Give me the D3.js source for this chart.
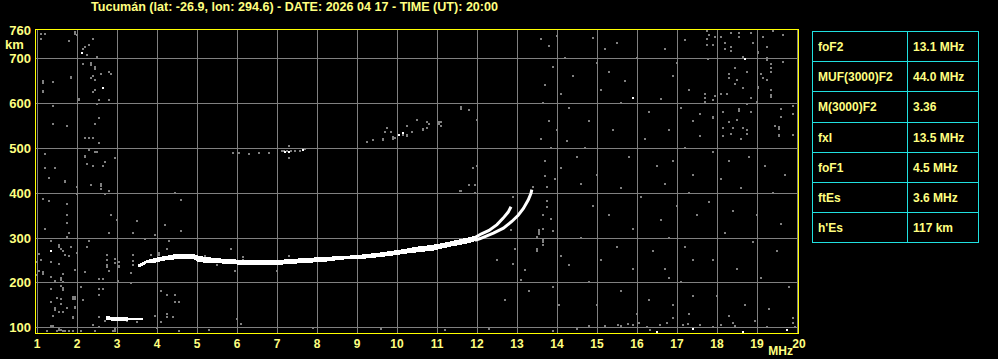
<!DOCTYPE html>
<html>
<head>
<meta charset="utf-8">
<script src="https://cdn.jsdelivr.net/npm/d3@7"></script>
<style>
  body { margin: 0; background: #000; }
  svg { display: block; }
</style>
</head>
<body>
<div id="chart"></div>
<script>
// ionogram - Tucumán
const title = "Tucumán (lat: -26.9, lon: 294.6) - DATE: 2026 04 17 - TIME (UT): 20:00";
const freqTicks = d3.range(1, 21);
const heightTicks = [100, 200, 300, 400, 500, 600, 700, 760];

const paramNames = ["foF2", "MUF(3000)F2", "M(3000)F2", "fxI", "foF1", "ftEs", "h'Es"];
const paramValues = ["13.1 MHz", "44.0 MHz", "3.36", "13.5 MHz", "4.5 MHz", "3.6 MHz", "117 km"];

// F trace (ordinary, below the split): frequency, lower and upper virtual height
const traceFreq = [3.53, 3.62, 3.75, 3.95, 4.2, 4.5, 4.9, 5.05, 5.5, 6.0, 6.6, 7.15, 7.6, 8.2, 8.6, 9.0, 9.3, 9.6, 9.9, 10.2, 10.5, 10.9, 11.35, 11.75, 12.0];
const traceLow  = [234, 236, 243, 244, 249, 252, 252, 245, 243, 240, 239, 240, 243, 246, 251, 252, 254, 257, 260, 264, 267, 271, 280, 287, 293];
const traceHigh = [240, 244, 250, 255, 259, 264, 264, 259, 254, 251, 250, 251, 254, 257, 259, 261, 264, 267, 271, 275, 280, 284, 292, 300, 305];

// the two branches near the critical frequency
const oFreq   = [11.95, 12.1, 12.3, 12.5, 12.65, 12.78, 12.85];
const oHeight = [300, 308, 316, 329, 343, 357, 369];
const xFreq   = [11.95, 12.08, 12.41, 12.66, 12.87, 13.03, 13.16, 13.28, 13.35, 13.37];
const xHeight = [294, 298, 310, 321, 336, 350, 365, 384, 399, 407];

// sporadic E trace
const esFreq = [2.72, 2.8, 2.85, 3.2, 3.65];
const esLow  = [117, 117, 115, 115, 116];
const esHigh = [126, 126, 122, 122, 121];

// isolated bright echoes
const brightEchoes = [[2.13, 712], [2.64, 633], [1.34, 270], [7.2, 492], [7.3, 492], [7.65, 495],
  [10.04, 529], [10.15, 534], [18.7, 699], [16.49, 90], [17.41, 96], [18.64, 90], [19.74, 94], [15.9, 612]];

// weak (grey) echoes, one range/frequency cell each
const greyEchoes = [
  [1.09,754],[1.19,754],[1.09,743],[1.94,759],[1.94,755],[1.99,753],[2.39,743],[1.79,739],[2.29,730],[2.2,726],
  [2.15,721],[2.25,708],[2.49,704],[2.34,690],[2.34,686],[2.15,688],[2.44,681],[2.44,677],[1.14,650],[1.14,646],
  [1.39,648],[1.84,659],[1.84,655],[2.59,666],[2.79,670],[2.84,666],[2.39,661],[2.34,657],[2.44,652],[1.14,628],
  [1.14,624],[2.39,625],[2.44,630],[2.04,610],[2.04,606],[2.54,608],[2.79,608],[2.49,599],[1.39,594],[2.54,567],
  [1.39,554],[1.74,550],[2.44,554],[2.19,523],[2.29,523],[2.39,523],[2.54,510],[2.29,496],[2.19,483],[2.19,479],
  [2.44,492],[2.49,492],[1.19,487],[2.94,478],[2.69,469],[2.24,465],[2.39,460],[2.64,460],[1.19,456],[1.44,456],
  [1.29,434],[1.69,427],[1.69,423],[1.99,414],[2.34,418],[2.59,420],[2.59,416],[2.59,409],[2.79,405],[2.69,398],
  [1.99,398],[1.14,387],[1.29,382],[1.74,374],[1.74,351],[2.84,351],[1.74,332],[1.19,319],[1.79,310],[2.79,310],
  [1.74,301],[1.34,293],[1.54,283],[1.54,279],[1.59,274],[1.64,270],[1.84,279],[1.99,265],[2.29,293],[2.24,279],
  [1.69,261],[1.79,258],[1.04,263],[1.09,250],[1.34,245],[1.54,241],[2.74,261],[2.74,250],[2.94,253],[2.94,243],
  [2.76,238],[2.76,234],[3.04,236],[0.99,245],[1.14,224],[1.14,220],[1.04,226],[0.99,217],[1.64,218],[1.94,227],
  [2.19,223],[1.34,212],[1.59,211],[1.59,206],[1.59,192],[1.44,203],[1.64,202],[1.64,188],[1.64,184],[2.09,191],
  [2.54,208],[2.64,208],[2.54,186],[2.64,186],[2.54,173],[1.34,186],[1.49,166],[1.59,164],[1.89,164],[1.94,164],
  [1.89,168],[1.94,168],[2.14,162],[1.34,157],[1.59,153],[1.74,144],[1.94,146],[1.94,142],[1.44,142],[1.44,138],
  [1.54,135],[1.64,135],[1.89,124],[1.89,120],[1.39,126],[2.54,122],[2.69,113],[2.79,122],[1.34,102],[1.39,102],
  [1.54,97],[1.54,93],[1.69,92],[1.64,92],[1.59,95],[1.89,92],[2.44,92],[2.09,92],[2.89,92],[2.94,92],[2.94,96],
  [1.24,92],[1.79,92],[1.49,92],
  // low frequency side of the F trace
  [3.49,337],[4.2,328],[4.6,315],[3.95,306],[3.7,297],[3.39,311],[2.79,311],[4.3,293],[4.24,274],[3.39,261],
  [3.85,261],[4.04,265],[4.04,261],[2.95,252],[3.39,248],[3.04,245],[3.39,239],[3.04,235],[3.34,222],[2.79,226],
  [3.03,203],[3.34,199],[2.64,208],[2.64,186],[4.09,181],[4.24,172],[4.44,172],[4.44,157],[4.54,157],[4.24,130],
  [4.24,122],[4.39,122],[3.94,125],[5.99,118],[5.84,275],[6.14,257],[6.14,249],[5.95,226],[6.99,226],[5.49,239],
  [5.2,258],[4.95,257],[7.3,258],[3.25,113],[3.5,111],[4.09,112],[2.39,105],[3.99,98],[6.1,108],[4.54,92],[2.54,100],
  [3.0,340],[4.45,399],[4.6,385],
  // faint echoes near 500 km
  [5.9,489],[6.05,489],[6.3,487],[6.55,489],[6.8,489],[7.12,493],[7.17,493],[7.25,493],[7.35,493],[7.45,493],[7.57,493],
  [7.29,505],[7.29,478],[7.7,497],[9.24,514],[9.39,518],[9.64,521],[9.64,517],[9.74,545],[9.69,536],[9.84,536],
  [9.91,525],[9.91,521],[9.94,522],[10.14,528],[10.24,530],[10.24,526],[10.24,550],[10.38,536],[10.49,563],
  [10.64,543],[10.64,539],[10.75,545],[10.75,558],[10.8,554],[11.04,558],[11.04,554],[11.09,558],[11.09,550],
  [11.59,592],[11.59,588],[11.79,585],[11.99,563],[11.89,456],[11.99,460],
  // around the cusp
  [11.59,404],[11.79,417],[11.94,417],[11.94,400],[12.89,391],[13.39,414],[13.74,414],[13.74,382],[13.74,369],
  [13.64,351],[13.54,317],[13.54,313],[13.64,319],[13.54,307],[13.49,302],[13.64,295],[13.64,291],[13.49,274],
  [13.49,270],[13.64,284],[12.94,275],[12.84,317],[11.58,405],[13.7,438],[13.75,414],[13.84,342],[13.89,315],
  [12.5,250],[12.9,242],[13.2,228],[13.1,205],[13.3,180],[12.7,160],[13.9,190],[14.1,260],[14.3,240],[14.05,150],
  // high frequency side
  [13.6,742],[13.8,728],[14.0,750],[14.2,700],[13.9,680],[14.4,660],[13.7,640],[14.1,620],[13.65,600],[14.3,590],
  [13.8,560],[14.0,540],[13.6,520],[14.25,515],[13.85,500],[14.5,480],[13.7,470],[14.1,455],[13.95,430],[14.6,420],
  [14.9,745],[15.2,720],[15.5,735],[15.0,690],[15.3,670],[15.7,650],[16.0,700],[15.1,630],[15.6,600],[16.3,580],
  [14.8,560],[15.4,540],[16.2,520],[14.7,500],[15.8,480],[16.5,460],[15.0,440],[15.6,410],[16.1,390],[14.9,370],
  [15.3,350],[16.6,340],[15.9,320],[14.6,300],[15.5,280],[16.4,270],[15.1,250],[15.9,230],[16.8,210],[14.8,200],
  [15.6,180],[16.3,160],[15.0,150],[16.0,130],[16.9,120],[17.2,740],[16.7,720],[17.0,690],[16.9,660],[17.3,630],
  [16.6,610],[17.1,590],[17.4,560],[16.8,540],[17.2,500],[16.9,470],[17.4,440],[16.7,420],[17.3,400],[17.0,370],
  [17.5,350],[16.8,300],[17.2,280],[17.4,250],[16.7,230],[17.1,200],[17.4,170],[16.9,150],[17.3,130],
  [17.74,761],[17.8,752],[17.95,748],[17.74,743],[17.76,730],[17.89,730],[18.1,748],[18.34,757],[18.55,757],[18.55,748],
  [18.84,757],[18.19,735],[18.34,726],[18.2,721],[18.34,716],[18.89,735],[19.14,748],[19.39,762],[19.64,753],[19.24,726],
  [19.03,715],[19.03,711],[18.66,703],[19.24,701],[19.24,697],[17.78,699],[19.64,692],[19.34,688],[19.34,679],[19.34,670],
  [18.44,679],[18.74,670],[19.09,666],[18.29,666],[18.31,657],[18.49,652],[19.14,657],[19.24,652],[18.44,643],[18.64,634],
  [19.03,637],[19.03,633],[19.34,630],[19.34,618],[19.34,614],[18.09,621],[18.24,621],[17.69,621],[17.69,612],[17.94,616],
  [17.89,608],[17.69,603],[18.84,612],[18.99,603],[18.74,597],[19.89,594],[18.54,586],[18.54,582],[18.16,581],[18.84,581],
  [19.59,586],[17.91,570],[17.91,566],[17.58,575],[18.29,559],[18.49,563],[19.59,568],[19.89,576],[19.44,550],[19.54,547],
  [19.54,543],[18.16,545],[18.39,545],[18.64,545],[18.74,541],[18.14,527],[18.34,532],[18.74,532],[19.54,530],[19.54,526],
  [19.89,530],[18.59,519],[17.58,527],
  [17.9,490],[18.3,470],[18.8,480],[19.2,460],[19.7,440],[18.1,430],[18.6,410],[19.4,400],[17.8,380],[18.4,360],
  [19.0,350],[19.6,330],[18.2,310],[18.9,290],[19.5,270],[17.9,250],[18.5,230],[19.1,210],[19.8,190],[18.0,170],
  [18.7,150],[19.3,140],[19.9,120],[18.3,125],
  // bottom rows
  [15.2,103],[15.53,105],[15.61,103],[15.78,107],[15.91,105],[16.06,109],[16.24,101],[16.33,94],[16.58,105],[16.74,109],
  [17.16,105],[17.28,107],[17.58,105],[17.91,100],[18.09,105],[18.41,109],[18.45,103],[18.95,113],[19.24,101],[19.91,109],
  [19.95,101],[14.5,96],[14.8,102],[13.9,92],[12.3,96],[11.2,94],[9.6,96],[7.9,98],[5.3,94]
];

const W = 998, H = 359;
const x = d3.scaleLinear().domain([1, 20]).range([37, 797]);
const y = d3.scaleLinear().domain([100, 700]).range([327.3, 58.3]);

const svg = d3.select("#chart").append("svg")
  .attr("width", W).attr("height", H)
  .style("background", "#000")
  .attr("font-family", "'Liberation Sans', Arial, sans-serif")
  .attr("font-weight", "bold");

const textColor = "#ffff80";

// title
svg.append("text")
  .attr("x", 91).attr("y", 11)
  .attr("fill", textColor)
  .attr("font-size", 12)
  .attr("textLength", 407).attr("lengthAdjust", "spacingAndGlyphs")
  .text(title);

// grid
const grid = svg.append("g").attr("stroke", "#808080").attr("stroke-width", 1).attr("shape-rendering", "crispEdges");
grid.selectAll("line.v").data(freqTicks).join("line")
  .attr("class", "v")
  .attr("x1", d => Math.round(x(d)) + 0.5).attr("x2", d => Math.round(x(d)) + 0.5)
  .attr("y1", 29).attr("y2", 333);
grid.selectAll("line.h").data(heightTicks.filter(d => d < 760)).join("line")
  .attr("class", "h")
  .attr("x1", 35).attr("x2", 798)
  .attr("y1", d => Math.round(y(d)) + 0.5).attr("y2", d => Math.round(y(d)) + 0.5);

// echoes
const cells = svg.append("g").attr("shape-rendering", "crispEdges");
cells.selectAll("rect.g").data(greyEchoes).join("rect")
  .attr("class", "g")
  .attr("x", d => Math.round(x(d[0])) - 1)
  .attr("y", d => Math.round(y(d[1])) - 1)
  .attr("width", 2).attr("height", 2)
  .attr("fill", "#808080");

const area = d3.area()
  .x(d => x(d.f))
  .y0(d => y(d.lo))
  .y1(d => y(d.hi));

const traceData = traceFreq.map((f, i) => ({f, lo: traceLow[i], hi: traceHigh[i]}));
const esData = esFreq.map((f, i) => ({f, lo: esLow[i], hi: esHigh[i]}));

svg.append("path").datum(traceData)
  .attr("d", area).attr("fill", "#fff").attr("shape-rendering", "crispEdges");
svg.append("path").datum(esData)
  .attr("d", area).attr("fill", "#fff").attr("shape-rendering", "crispEdges");

const line = d3.line().x(d => x(d[0])).y(d => y(d[1]));
svg.append("path").datum(oFreq.map((f, i) => [f, oHeight[i]]))
  .attr("d", line).attr("fill", "none").attr("stroke", "#fff").attr("stroke-width", 3);
svg.append("path").datum(xFreq.map((f, i) => [f, xHeight[i]]))
  .attr("d", line).attr("fill", "none").attr("stroke", "#fff").attr("stroke-width", 3);

cells.selectAll("rect.b").data(brightEchoes).join("rect")
  .attr("class", "b")
  .attr("x", d => Math.round(x(d[0])) - 1)
  .attr("y", d => Math.round(y(d[1])) - 1)
  .attr("width", 2).attr("height", 2)
  .attr("fill", "#fff");

// frame
svg.append("rect")
  .attr("x", 35.5).attr("y", 29.5).attr("width", 763).attr("height", 304)
  .attr("fill", "none").attr("stroke", "#ffff00").attr("stroke-width", 1)
  .attr("shape-rendering", "crispEdges");

// axis labels
svg.append("g").selectAll("text").data(freqTicks).join("text")
  .attr("x", d => x(d) + (d === 20 ? 2 : 0))
  .attr("y", 348)
  .attr("text-anchor", "middle")
  .attr("fill", textColor).attr("font-size", 12)
  .text(d => d);
svg.append("text").attr("x", 793).attr("y", 355).attr("text-anchor", "end")
  .attr("fill", textColor).attr("font-size", 12).text("MHz");

svg.append("g").selectAll("text").data(heightTicks).join("text")
  .attr("x", 31)
  .attr("y", d => d === 760 ? 35 : y(d) + 5)
  .attr("text-anchor", "end")
  .attr("fill", textColor).attr("font-size", 13)
  .text(d => d);
svg.append("text").attr("x", 5).attr("y", 49)
  .attr("fill", textColor).attr("font-size", 13).text("km");

// parameter table
const tab = {x0: 812, x1: 907, x2: 978, y0: 31, row: 30.2};
const tg = svg.append("g");
tg.selectAll("line.r").data(d3.range(paramNames.length + 1)).join("line")
  .attr("class", "r")
  .attr("x1", tab.x0).attr("x2", tab.x2)
  .attr("y1", d => Math.round(tab.y0 + d * tab.row) + 0.5)
  .attr("y2", d => Math.round(tab.y0 + d * tab.row) + 0.5)
  .attr("stroke", "#20e0e0").attr("shape-rendering", "crispEdges");
tg.selectAll("line.c").data([tab.x0, tab.x1, tab.x2]).join("line")
  .attr("class", "c")
  .attr("x1", d => d + 0.5).attr("x2", d => d + 0.5)
  .attr("y1", tab.y0).attr("y2", Math.round(tab.y0 + paramNames.length * tab.row) + 1)
  .attr("stroke", "#20e0e0").attr("shape-rendering", "crispEdges");
tg.selectAll("text.n").data(paramNames).join("text")
  .attr("class", "n")
  .attr("x", tab.x0 + 6).attr("y", (d, i) => tab.y0 + i * tab.row + 20)
  .attr("fill", textColor).attr("font-size", 12).text(d => d);
tg.selectAll("text.v").data(paramValues).join("text")
  .attr("class", "v")
  .attr("x", tab.x1 + 6).attr("y", (d, i) => tab.y0 + i * tab.row + 20)
  .attr("fill", textColor).attr("font-size", 12).text(d => d);
</script>
</body>
</html>
